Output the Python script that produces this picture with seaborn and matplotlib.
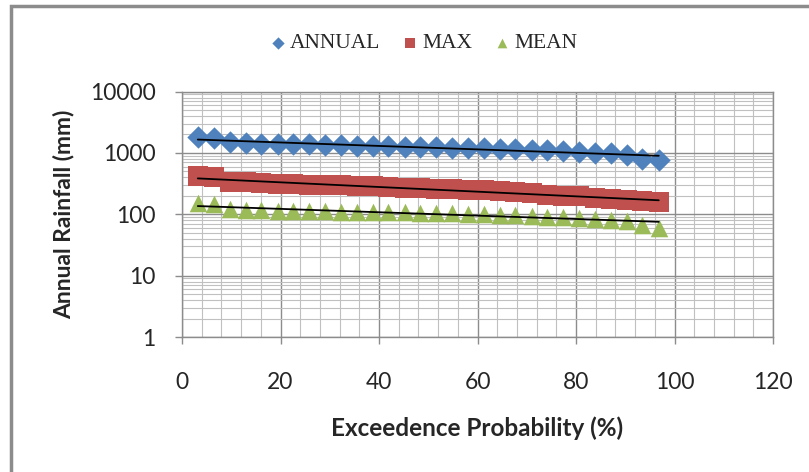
import numpy as np
import pandas as pd
import matplotlib
matplotlib.use("Agg")
import matplotlib.pyplot as plt
import seaborn as sns
from matplotlib.ticker import LogLocator, MultipleLocator, FixedLocator
from matplotlib.patches import Rectangle

sns.set_theme(style="white")
plt.rcParams['font.family'] = ['Lato', 'DejaVu Sans']

# Exceedence probability (%) for the 30 ranked years
exceedence = [3.2, 6.5, 9.7, 12.9, 16.1, 19.4, 22.6, 25.8, 29.0, 32.3,
              35.5, 38.7, 41.9, 45.2, 48.4, 51.6, 54.8, 58.1, 61.3, 64.5,
              67.7, 71.0, 74.2, 77.4, 80.6, 83.9, 87.1, 90.3, 93.5, 96.8]

annual = [1800, 1750, 1500, 1450, 1420, 1400, 1390, 1380, 1360, 1340,
          1320, 1300, 1290, 1270, 1260, 1240, 1220, 1200, 1190, 1170,
          1150, 1120, 1100, 1070, 1040, 1010, 980, 930, 800, 760]

max_rain = [420, 400, 340, 330, 320, 315, 310, 305, 300, 295,
            290, 285, 280, 270, 265, 260, 255, 250, 245, 240,
            230, 220, 210, 200, 195, 185, 180, 170, 165, 160]

mean_rain = [150, 145, 120, 118, 116, 115, 114, 113, 112, 111,
             110, 109, 108, 107, 106, 105, 104, 102, 100, 98,
             96, 94, 92, 90, 88, 85, 82, 78, 66, 60]

series_names = ["ANNUAL", "MAX", "MEAN"]
colors = {"ANNUAL": "#4F81BD", "MAX": "#C0504D", "MEAN": "#9BBB59"}
markers = {"ANNUAL": "D", "MAX": "s", "MEAN": "^"}
sizes = {"ANNUAL": 130, "MAX": 200, "MEAN": 160}

df = pd.DataFrame({
    "p": exceedence * 3,
    "rain": annual + max_rain + mean_rain,
    "series": ["ANNUAL"] * 30 + ["MAX"] * 30 + ["MEAN"] * 30,
})

fig = plt.figure(figsize=(8.09, 4.72), dpi=100)
ax = fig.add_axes([0.225, 0.286, 0.7305, 0.520])

for name in series_names:
    sub = df[df["series"] == name]
    sns.scatterplot(data=sub, x="p", y="rain", ax=ax, color=colors[name],
                    marker=markers[name], s=sizes[name], linewidth=0,
                    label=name, zorder=3)

# exponential trend lines (straight on log axis)
for name in series_names:
    sub = df[df["series"] == name]
    k, b = np.polyfit(sub["p"], np.log10(sub["rain"]), 1)
    xs = np.array([sub["p"].min(), sub["p"].max()])
    ax.plot(xs, 10 ** (k * xs + b), color="black", lw=1.3, zorder=4)

ax.set_yscale("log")
ax.set_xlim(0, 120)
ax.set_ylim(1, 10000)
ax.xaxis.set_major_locator(MultipleLocator(20))
ax.xaxis.set_minor_locator(MultipleLocator(4))
ax.yaxis.set_major_locator(FixedLocator([1, 10, 100, 1000, 10000]))
ax.yaxis.set_minor_locator(LogLocator(base=10, subs=np.arange(2, 10)))
ax.set_yticklabels(["1", "10", "100", "1000", "10000"])
ax.yaxis.set_minor_formatter(plt.NullFormatter())

ax.grid(which="major", color="#8c8c8c", lw=1.0)
ax.grid(which="minor", color="#c0c0c0", lw=0.8)
ax.set_axisbelow(True)
for sp in ax.spines.values():
    sp.set_color("#8c8c8c")
    sp.set_linewidth(1.0)

ax.tick_params(axis="both", which="major", labelsize=16.5, labelcolor="#262626",
               direction="out", length=5, color="#8c8c8c", width=1.0,
               bottom=True, left=True)
ax.tick_params(axis="x", which="major", pad=20)
ax.tick_params(axis="y", which="major", pad=14)
ax.tick_params(axis="both", which="minor", length=0)

ax.set_xlabel("Exceedence Probability (%)", fontsize=17.5, fontweight="bold",
              color="#262626", labelpad=17)
ax.set_ylabel("Annual Rainfall (mm)", fontsize=16.5, fontweight="bold",
              color="#262626", labelpad=11)

leg = ax.legend(loc="center", bbox_to_anchor=(0.522, 0.908), bbox_transform=fig.transFigure,
                ncol=3, frameon=False, handletextpad=0.05, columnspacing=0.9,
                handlelength=1.0, markerscale=0.55,
                prop={"family": "Liberation Serif", "size": 15.5})
for t in leg.get_texts():
    t.set_color("#262626")

# chart frame (left and top edges visible)
fig.patches.append(Rectangle((11 / 809, -0.1), 1.2, 1.1 - 6 / 472,
                             transform=fig.transFigure, fill=False,
                             edgecolor="#8c8c8c", lw=2.5))

fig.savefig("out.png", dpi=100)
